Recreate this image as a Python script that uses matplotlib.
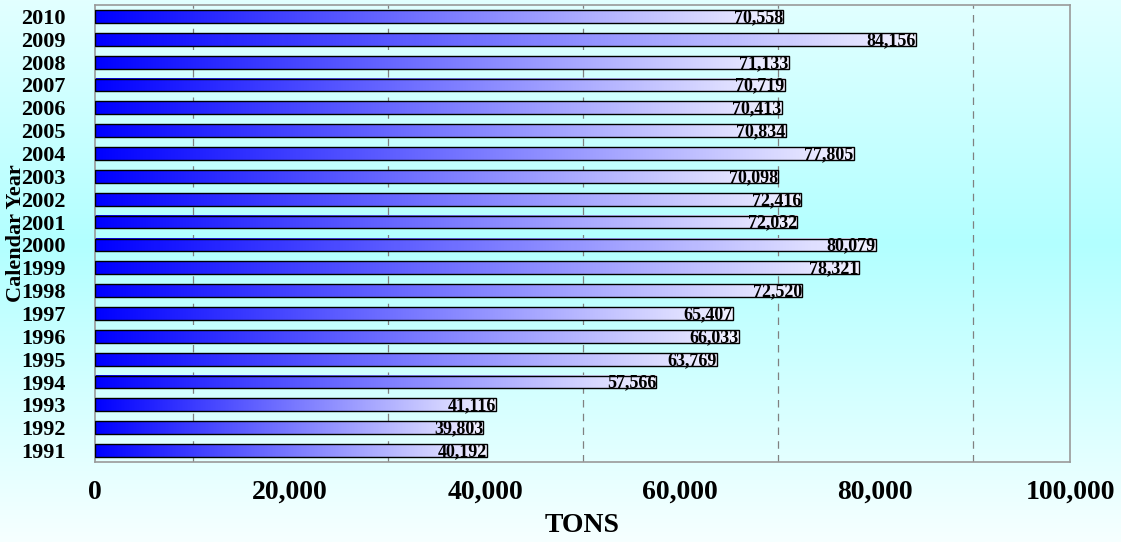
import numpy as np
import matplotlib
matplotlib.use("Agg")
import matplotlib.pyplot as plt
from matplotlib.colors import LinearSegmentedColormap

years = ["1991", "1992", "1993", "1994", "1995", "1996", "1997", "1998", "1999", "2000",
         "2001", "2002", "2003", "2004", "2005", "2006", "2007", "2008", "2009", "2010"]
tons = [40192, 39803, 41116, 57566, 63769, 66033, 65407, 72520, 78321, 80079,
        72032, 72416, 70098, 77805, 70834, 70413, 70719, 71133, 84156, 70558]
xticks = [0, 20000, 40000, 60000, 80000, 100000]
xticklabels = ["0", "20,000", "40,000", "60,000", "80,000", "100,000"]

serif = ["Liberation Serif", "DejaVu Serif"]

fig = plt.figure(figsize=(11.21, 5.42), dpi=100)

# figure background gradient
bg = fig.add_axes([0, 0, 1, 1], zorder=-10)
bg_cmap = LinearSegmentedColormap.from_list(
    "bg", [(0.0, "#e2ffff"), (0.45, "#b2ffff"), (1.0, "#f6ffff")])
bg.imshow(np.linspace(0, 1, 256).reshape(-1, 1), cmap=bg_cmap, aspect="auto",
          extent=(0, 1, 0, 1), origin="upper")
bg.set_axis_off()

ax = fig.add_axes([95 / 1121, 1 - 462 / 542, (1070 - 95) / 1121, (462 - 5) / 542])
ax.patch.set_alpha(0)

bar_cmap = LinearSegmentedColormap.from_list("bar", ["#0000ff", "#f2f2ff"])
grad = np.linspace(0, 1, 256).reshape(1, -1)
h = 0.56
for i, (yr, v) in enumerate(zip(years, tons)):
    ax.imshow(grad, cmap=bar_cmap, aspect="auto", extent=(0, v, i - h / 2, i + h / 2),
              zorder=2, interpolation="bicubic")
    ax.add_patch(plt.Rectangle((0, i - h / 2), v, h, fill=False, edgecolor="black",
                               linewidth=1.0, zorder=3))
    ax.text(v, i - 0.05, f"{v:,}", ha="right", va="center", fontsize=13, fontweight="bold",
            family=serif, zorder=4)

ax.set_xlim(0, 100000)
ax.set_ylim(-0.5, len(years) - 0.5)
ax.set_xticks(xticks)
ax.set_xticklabels(xticklabels, fontsize=20, fontweight="bold", family=serif)
ax.set_xticks(np.arange(10000, 100000, 10000), minor=True)
ax.set_yticks(range(len(years)))
ax.set_yticklabels(years, fontsize=16, fontweight="bold", family=serif)
ax.tick_params(axis="x", which="both", length=0, pad=13)
ax.tick_params(axis="y", length=0, pad=21)
ax.grid(axis="x", which="minor", linestyle=(0, (6, 5)), color="#808080", linewidth=0.9, zorder=1)
ax.set_axisbelow(True)
for s in ax.spines.values():
    s.set_color("#9a9a9a")
    s.set_linewidth(1.2)

ax.set_xlabel("TONS", fontsize=20, fontweight="bold", family=serif, labelpad=6)
fig.text(16 / 1121, 1 - 233 / 542, "Calendar Year", rotation=90, ha="center", va="center",
         fontsize=16, fontweight="bold", family=serif)

fig.savefig("out.png", dpi=100)
